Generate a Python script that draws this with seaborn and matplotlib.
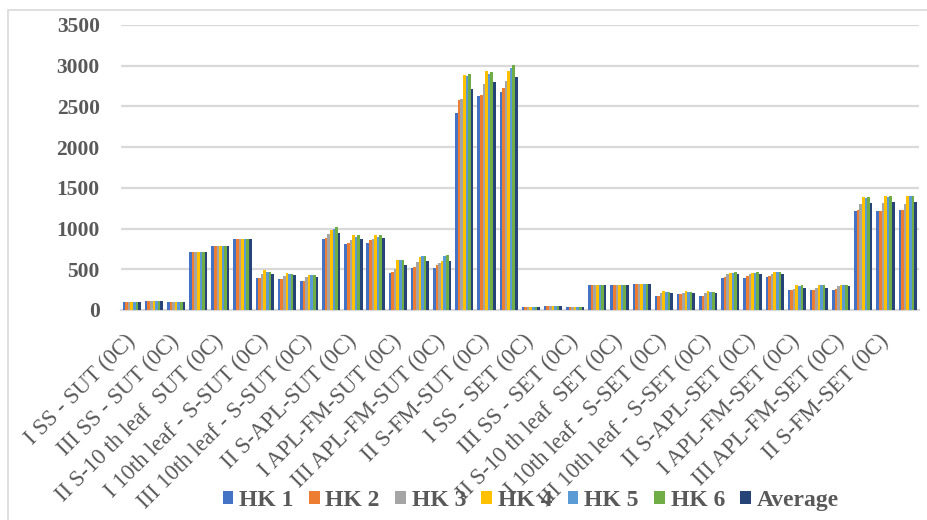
import matplotlib
matplotlib.use("Agg")
import matplotlib.pyplot as plt
import seaborn as sns
import pandas as pd
from matplotlib.patches import Rectangle

# Sampling sites, each measured in three replicates (I, II, III), for SUT and SET
sites = ["SS - {t} (0C)", "S-10 th leaf  {t} (0C)", "10th leaf - S-{t} (0C)",
         "S-APL-{t} (0C)", "APL-FM-{t} (0C)", "S-FM-{t} (0C)"]
reps = ["I", "II", "III"]
categories = [f"{r} {s.format(t=t)}" for t in ["SUT", "SET"] for s in sites for r in reps]

series = ["HK 1", "HK 2", "HK 3", "HK 4", "HK 5", "HK 6", "Average"]

hk1 = [100, 115, 100, 710, 790, 870, 388, 375, 354, 867, 805, 821, 450, 513, 513, 2420, 2625, 2675,
       33, 49, 33, 303, 303, 320, 176, 193, 176, 386, 386, 403, 241, 241, 241, 1216, 1216, 1233]
hk2 = [100, 115, 100, 710, 790, 870, 388, 375, 354, 888, 825, 855, 467, 530, 550, 2575, 2645, 2727,
       33, 49, 33, 303, 303, 320, 176, 193, 176, 407, 415, 415, 241, 241, 257, 1233, 1216, 1233]
hk3 = [100, 115, 100, 710, 790, 870, 438, 417, 400, 938, 855, 867, 500, 584, 571, 2590, 2780, 2810,
       33, 49, 33, 303, 303, 320, 205, 209, 209, 436, 436, 436, 257, 274, 290, 1295, 1316, 1295]
hk4 = [100, 115, 100, 710, 790, 870, 488, 450, 433, 980, 917, 917, 613, 646, 605, 2890, 2932, 2940,
       33, 49, 33, 303, 303, 320, 238, 238, 238, 448, 448, 465, 307, 307, 307, 1390, 1403, 1403]
hk5 = [100, 115, 100, 710, 790, 870, 467, 438, 433, 1000, 896, 896, 613, 659, 659, 2878, 2903, 2973,
       33, 49, 33, 303, 303, 320, 221, 221, 221, 448, 448, 465, 290, 307, 307, 1370, 1382, 1403]
hk6 = [100, 115, 100, 710, 790, 870, 467, 438, 425, 1013, 917, 917, 613, 659, 675, 2903, 2919, 3014,
       33, 49, 33, 303, 303, 320, 221, 221, 221, 465, 465, 465, 307, 307, 307, 1390, 1403, 1403]
average = [100, 115, 100, 710, 790, 870, 438, 425, 400, 950, 867, 884, 550, 596, 596, 2714, 2796, 2862,
           33, 49, 33, 303, 303, 320, 205, 205, 205, 436, 436, 436, 274, 274, 290, 1316, 1328, 1328]

yticks = [0, 500, 1000, 1500, 2000, 2500, 3000, 3500]

colors = ["#4472C4", "#ED7D31", "#A5A5A5", "#FFC000", "#5B9BD5", "#70AD47", "#264478"]
text_color = "#595959"

values = [hk1, hk2, hk3, hk4, hk5, hk6, average]
df = pd.DataFrame(
    [(c, s, v[i]) for s, v in zip(series, values) for i, c in enumerate(categories)],
    columns=["category", "series", "value"],
)

sns.set_theme(style="white")
plt.rcParams["font.family"] = ["Liberation Serif", "DejaVu Serif"]

fig = plt.figure(figsize=(9.28, 5.2), dpi=100)
ax = fig.add_axes([0.130, 0.404, 0.860, 0.548])

sns.barplot(data=df, x="category", y="value", hue="series", order=categories,
            hue_order=series, palette=colors, width=0.82, dodge=True,
            errorbar=None, ax=ax, zorder=3, linewidth=0, saturation=1)

ax.set_ylim(0, 3500)
ax.set_xlim(-0.5, len(categories) - 0.5)
ax.set_yticks(yticks)
ax.set_yticklabels([str(t) for t in yticks], fontsize=15.5, fontweight="bold", color=text_color)
ax.yaxis.grid(True, color="#D9D9D9", linewidth=1.6, zorder=0)
ax.xaxis.grid(False)
for side in ["top", "right", "left"]:
    ax.spines[side].set_visible(False)
ax.spines["bottom"].set_color("#D9D9D9")
ax.spines["bottom"].set_linewidth(1.6)
ax.tick_params(axis="y", length=0, pad=15)
ax.tick_params(axis="x", length=0, pad=20)

shown = list(range(0, len(categories), 2))
ax.set_xticks(shown)
ax.set_xticklabels([categories[i] for i in shown], rotation=45, ha="right", va="center",
                   rotation_mode="anchor", fontsize=16.3, color=text_color)
ax.set_xlabel("")
ax.set_ylabel("")

handles, labels = ax.get_legend_handles_labels()
ax.legend(handles, labels, loc="center", bbox_to_anchor=(0.572, 0.038),
          bbox_transform=fig.transFigure, ncol=7, frameon=False,
          prop={"size": 17, "weight": "bold"}, labelcolor=text_color,
          handlelength=0.45, handleheight=0.45, handletextpad=0.25, columnspacing=0.65)

fig.patches.append(Rectangle((0.009, -0.01), 1.0, 0.99, transform=fig.transFigure,
                             fill=False, edgecolor="#D9D9D9", linewidth=1.2))

fig.savefig("out.png", dpi=100)
